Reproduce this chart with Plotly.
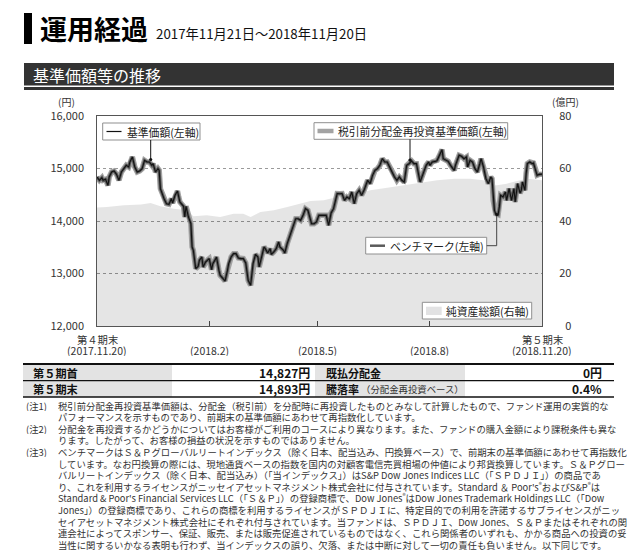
import pandas as pd
import plotly.graph_objects as go

W, H = 637, 551
PL, PR, PT, PB = 97, 542, 116, 326   # plot box in pixels
FONT = "Noto Sans CJK JP"

# ---------------- data ----------------
start = pd.Timestamp("2017-11-20")
end = pd.Timestamp("2018-11-20")

# days after 2017-11-20
days = [0, 2, 4, 5, 7, 9, 10, 12, 14, 16, 18, 20, 22, 24, 26, 27, 29, 31, 33, 35, 37, 39, 41, 43, 45, 46,
        48, 50, 51, 52, 55, 57, 59, 61, 62, 64, 66, 67, 68, 71, 72, 73, 75, 77, 78, 79, 81, 83, 84, 86,
        87, 89, 91, 92, 94, 95, 97, 98, 100, 101, 103, 105, 107, 108, 110, 112, 114, 116, 118, 120, 122,
        123, 124, 126, 127, 128, 130, 132, 133, 135, 137, 138, 140, 142, 143, 145, 147, 149, 150, 153,
        154, 156, 159, 161, 163, 165, 167, 169, 171, 173, 174, 176, 178, 180, 182, 184, 186, 188, 190,
        192, 194, 195, 197, 199, 201, 203, 205, 207, 209, 211, 213, 215, 217, 219, 222, 224, 226, 228,
        230, 232, 234, 236, 238, 240, 242, 244, 246, 248, 250, 252, 254, 256, 258, 260, 262, 263, 265,
        267, 269, 270, 272, 273, 275, 278, 279, 281, 283, 284, 287, 288, 290, 293, 294, 297, 299, 301,
        303, 304, 306, 308, 310, 312, 314, 315, 317, 319, 321, 323, 324, 325, 326, 327, 329, 330, 331,
        333, 335, 336, 338, 340, 342, 343, 345, 347, 348, 349, 351, 352, 353, 355, 357, 358, 360, 361,
        363, 365]

base_price = [14838, 14775, 14825, 14775, 14794, 14679, 14838, 14933, 14952, 14889, 14775, 14933, 14997,
              15060, 15029, 15124, 15219, 15029, 14933, 14952, 14997, 15156, 15124, 15124, 15060, 15092,
              14933, 14997, 14965, 14616, 14425, 14330, 14318, 14425, 14343, 14489, 14571, 14457, 14362,
              14279, 14076, 14279, 14076, 13949, 13505, 13441, 13092, 13137, 13251, 13314, 13124, 13219,
              13264, 13283, 13073, 13187, 13264, 13314, 13060, 12965, 12914, 12857, 13060, 13187, 13314,
              13378, 13378, 13295, 13283, 13283, 13200, 12997, 12870, 12775, 12933, 13187, 13365, 13314,
              13124, 13314, 13505, 13473, 13390, 13473, 13365, 13410, 13473, 13600, 13505, 13441, 13390,
              13568, 13759, 13886, 14044, 14044, 14013, 14108, 14235, 14203, 14108, 13949, 13949, 13981,
              14108, 14108, 14108, 14108, 13918, 14152, 14235, 14330, 14521, 14520, 14521, 14394, 14457,
              14425, 14552, 14330, 14521, 14584, 14489, 14584, 14775, 14711, 14870, 14965, 14997, 15060,
              15187, 15124, 15124, 15029, 14933, 14838, 14775, 14838, 14775, 14743, 15060, 15092, 15143,
              15092, 15092, 14965, 14743, 14870, 15029, 15060, 15124, 15060, 15124, 15137, 15156, 15251,
              15359, 15187, 15156, 15137, 15060, 14965, 15060, 15251, 15232, 15187, 15219, 15029, 15156,
              15124, 14997, 14933, 15092, 15187, 15029, 14806, 14711, 14838, 14806, 14394, 14203, 14140,
              14121, 14267, 14489, 14457, 14552, 14394, 14616, 14394, 14616, 14362, 14711, 14533, 14584,
              14743, 14584, 14902, 15092, 15124, 15092, 15105, 14965, 14870, 14889, 14893]

# no distribution was paid, so the reinvested NAV coincides with the base price;
# the re-indexed benchmark is drawn on top of the same path in the chart
reinvested_price = list(base_price)
benchmark = list(base_price)

nav_days = [0, 8, 22, 36, 44, 52, 63, 74, 79, 90, 101, 112, 120, 126, 134, 145, 156, 167, 175, 186, 197,
            211, 224, 238, 252, 265, 279, 293, 306, 317, 323, 328, 336, 347, 353, 365]
net_assets = [45.1, 45.3, 46.0, 46.3, 46.9, 45.6, 44.7, 44.1, 41.8, 42.2, 41.5, 42.8, 42.8, 41.5, 43.4,
              44.1, 45.3, 46.6, 47.6, 47.9, 49.1, 49.8, 51.7, 52.7, 53.6, 54.5, 55.5, 56.1, 56.1, 55.5,
              53.6, 53.6, 54.2, 55.5, 56.1, 55.5]

tick_dates = ["2018-02-20", "2018-05-20", "2018-08-20"]
period_dates = ["2017-11-20", "2018-02-20", "2018-05-20", "2018-08-20", "2018-11-20"]
period_top = ["第４期末", "", "", "", "第５期末"]
period_bottom = ["(2017.11.20)", "(2018.2)", "(2018.5)", "(2018.8)", "(2018.11.20)"]
price_ticks = [12000, 13000, 14000, 15000, 16000]
nav_ticks = [0, 20, 40, 60, 80]
nav_ticktext = ["\u20070", "20", "40", "60", "80"]

legend_labels = ["基準価額(左軸)", "税引前分配金再投資基準価額(左軸)", "ベンチマーク(左軸)", "純資産総額(右軸)"]

table_rows = [["第５期首", "14,827円", "既払分配金", "0円"],
              ["第５期末", "14,893円", "騰落率", "0.4%"]]
table_note = "（分配金再投資ベース）"

note_labels = ["(注1)", "", "(注2)", "", "(注3)", "", "", "", "", "", "", "", ""]
note_lines = [
    "税引前分配金再投資基準価額は、分配金（税引前）を分配時に再投資したものとみなして計算したもので、ファンド運用の実質的な",
    "パフォーマンスを示すものであり、前期末の基準価額にあわせて再指数化しています。",
    "分配金を再投資するかどうかについてはお客様がご利用のコースにより異なります。また、ファンドの購入金額により課税条件も異な",
    "ります。したがって、お客様の損益の状況を示すものではありません。",
    "ベンチマークはＳ＆Ｐグローバルリートインデックス（除く日本、配当込み、円換算ベース）で、前期末の基準価額にあわせて再指数化",
    "しています。なお円換算の際には、現地通貨ベースの指数を国内の対顧客電信売買相場の仲値により邦貨換算しています。Ｓ＆Ｐグロー",
    "バルリートインデックス（除く日本、配当込み）（「当インデックス」）はS&amp;P Dow Jones Indices LLC（「ＳＰＤＪＩ」）の商品であ",
    "り、これを利用するライセンスがニッセイアセットマネジメント株式会社に付与されています。Standard ＆ Poor's<sup>®</sup>およびS&amp;P<sup>®</sup>は",
    "Standard &amp; Poor's Financial Services LLC（「Ｓ＆Ｐ」）の登録商標で、Dow Jones<sup>®</sup>はDow Jones Trademark Holdings LLC（「Dow",
    "Jones」）の登録商標であり、これらの商標を利用するライセンスがＳＰＤＪＩに、特定目的での利用を許諾するサブライセンスがニッ",
    "セイアセットマネジメント株式会社にそれぞれ付与されています。当ファンドは、ＳＰＤＪＩ、Dow Jones、Ｓ＆Ｐまたはそれぞれの関",
    "連会社によってスポンサー、保証、販売、または販売促進されているものではなく、これら関係者のいずれも、かかる商品への投資の妥",
    "当性に関するいかなる表明も行わず、当インデックスの誤り、欠落、または中断に対して一切の責任も負いません。以下同じです。",
]

# ---------------- helpers: pixel -> paper ----------------
def px(x):
    return (x - PL) / (PR - PL)


def py(y):
    return (PB - y) / (PB - PT)


dates = start + pd.to_timedelta(days, unit="D")
nav_dates = start + pd.to_timedelta(nav_days, unit="D")

fig = go.Figure()
fig.add_trace(go.Scatter(x=nav_dates, y=net_assets, yaxis="y", mode="lines", fill="tozeroy",
                         fillcolor="rgba(0,0,0,0.10)", line=dict(width=0, color="rgba(0,0,0,0)"),
                         name=legend_labels[3], hoverinfo="skip"))
fig.add_trace(go.Scatter(x=dates, y=reinvested_price, yaxis="y2", mode="lines",
                         line=dict(color="#a3a3a3", width=5.5), name=legend_labels[1]))
fig.add_trace(go.Scatter(x=dates, y=benchmark, yaxis="y2", mode="lines",
                         line=dict(color="#5a5a5a", width=3), name=legend_labels[2]))
fig.add_trace(go.Scatter(x=dates, y=base_price, yaxis="y2", mode="lines",
                         line=dict(color="#111111", width=1.1), name=legend_labels[0]))

shapes = []
ann = []


def rect(x0, y0, x1, y1, fill, line_color=None, lw=0):
    shapes.append(dict(type="rect", xref="paper", yref="paper", x0=px(x0), x1=px(x1), y0=py(y0), y1=py(y1),
                       fillcolor=fill, line=dict(color=line_color or fill, width=lw), layer="above"))


def hline(x0, x1, y, color, w):
    shapes.append(dict(type="line", xref="paper", yref="paper", x0=px(x0), x1=px(x1), y0=py(y), y1=py(y),
                       line=dict(color=color, width=w), layer="above"))


def vline(x, y0, y1, color, w):
    shapes.append(dict(type="line", xref="paper", yref="paper", x0=px(x), x1=px(x), y0=py(y0), y1=py(y1),
                       line=dict(color=color, width=w), layer="above"))


def dot(x, y, r=1.6, color="#111"):
    shapes.append(dict(type="circle", xref="paper", yref="paper", x0=px(x - r), x1=px(x + r),
                       y0=py(y + r), y1=py(y - r), fillcolor=color, line=dict(width=0), layer="above"))


def text(x, y, s, size, color="#222", anchor="left", bold=False, height=None):
    if bold:
        s = "<b>" + s + "</b>"
    a = dict(xref="paper", yref="paper", x=px(x), y=py(y), text=s, showarrow=False,
             xanchor=anchor, yanchor="middle", font=dict(family=FONT, size=size, color=color))
    if height:
        a["height"] = height
    ann.append(a)


# ---- title ----
rect(24, 13, 32, 44, "#000000")
text(38, 28.5, "運用経過", 27, "#000", bold=True)
text(154, 33.5, "2017年11月21日～2018年11月20日", 13.3, "#111")

# ---- section bar ----
rect(24, 63, 614, 85.5, "#333333")
text(31, 74.5, "基準価額等の推移", 16, "#ffffff")
hline(24, 614, 88.6, "#333333", 3)

# ---- axis unit labels ----
text(66, 101, "(円)", 10, "#333", anchor="center")
text(565, 101, "(億円)", 10, "#333", anchor="center")

# ---- legend boxes ----
LEG = 10.8
rect(102.7, 123, 200, 140, "#ffffff", "#8f8f8f", 1)
hline(106.5, 121.5, 131.5, "#111111", 1.2)
text(124.5, 131.5, legend_labels[0], LEG)
vline(150.7, 140, 159.5, "#111111", 1)
dot(150.7, 159.5)

rect(314, 122.7, 507.7, 139.3, "#ffffff", "#8f8f8f", 1)
hline(317.5, 333.5, 131, "#a3a3a3", 4.5)
text(336, 131, legend_labels[1], LEG)
vline(410, 139.3, 160, "#111111", 1)
dot(410, 160)

rect(365.7, 237.3, 486.7, 254, "#ffffff", "#8f8f8f", 1)
hline(370, 385, 245.7, "#5a5a5a", 2.5)
text(388, 245.7, legend_labels[2], LEG)
hline(486.7, 496.7, 245.7, "#444444", 1)
vline(496.7, 245.7, 214.5, "#444444", 1)
dot(496.7, 214.5)

rect(422.3, 302.3, 531.7, 319, "#ffffff", "#8f8f8f", 1)
rect(426, 306.7, 441.7, 315, "#e2e2e3")
text(444, 310.6, legend_labels[3], LEG)

# ---- period labels under the x axis ----
for d, top, bot in zip(period_dates, period_top, period_bottom):
    xp = (pd.Timestamp(d) - start) / (end - start)
    if top:
        ann.append(dict(xref="paper", yref="paper", x=xp, y=py(339.5), text=top, showarrow=False,
                        xanchor="center", yanchor="middle", height=11,
                        font=dict(family=FONT, size=10.3, color="#333")))
    ann.append(dict(xref="paper", yref="paper", x=xp, y=py(350.5), text=bot, showarrow=False,
                    xanchor="center", yanchor="middle", height=11,
                    font=dict(family=FONT, size=10.5, color="#333")))

# ---- table ----
rect(23, 364, 172, 397, "#e3e3e3")
rect(315, 364, 465, 397, "#e3e3e3")
hline(23, 614, 364, "#111111", 2)
hline(23, 614, 380.6, "#111111", 1.4)
hline(23, 614, 397, "#111111", 1.4)
for i, row in enumerate(table_rows):
    yc = 372.5 + 16 * i
    text(31, yc, row[0], 11.2, "#111", bold=True)
    text(312, yc, row[1], 12, "#111", anchor="right", bold=True)
    text(324, yc, row[2], 11, "#111", bold=True)
    text(604, yc, row[3], 12, "#111", anchor="right", bold=True)
text(359, 388.5, table_note, 9.4, "#333")

# ---- notes ----
for i, (lab, line) in enumerate(zip(note_labels, note_lines)):
    yc = 405 + 11.6 * i
    if lab:
        text(24, yc, lab, 9.4, "#333", height=11)
    text(56, yc, line, 9.35, "#333", height=11)

fig.update_layout(
    width=W, height=H, autosize=False,
    margin=dict(l=PL, r=W - PR, t=PT, b=H - PB, pad=0),
    paper_bgcolor="#ffffff", plot_bgcolor="#ffffff",
    showlegend=False,
    font=dict(family=FONT, size=11, color="#333"),
    xaxis=dict(type="date", range=[start, end], showgrid=False, zeroline=False,
               tickvals=tick_dates, ticks="inside", ticklen=5, tickwidth=1, tickcolor="#444",
               showticklabels=False, showline=True, mirror=True, linecolor="#555", linewidth=1),
    yaxis=dict(side="right", range=[0, 80], tickvals=nav_ticks, ticktext=nav_ticktext,
               showgrid=True, gridcolor="#9a9a9a", griddash="dot", gridwidth=1, zeroline=False,
               showline=True, mirror=True, linecolor="#555", linewidth=1, ticks="",
               ticklabelstandoff=14, tickfont=dict(family=FONT, size=11, color="#333")),
    yaxis2=dict(overlaying="y", side="left", anchor="x", range=[12000, 16000], tickvals=price_ticks,
                tickformat=",", showgrid=False, zeroline=False, showline=False, ticks="",
                ticklabelstandoff=12, tickfont=dict(family=FONT, size=11, color="#333")),
    shapes=shapes,
    annotations=ann,
)

fig.write_html("out.html", config={"displayModeBar": False},
               post_script="document.body.style.margin='0';document.body.style.overflow='hidden';")
